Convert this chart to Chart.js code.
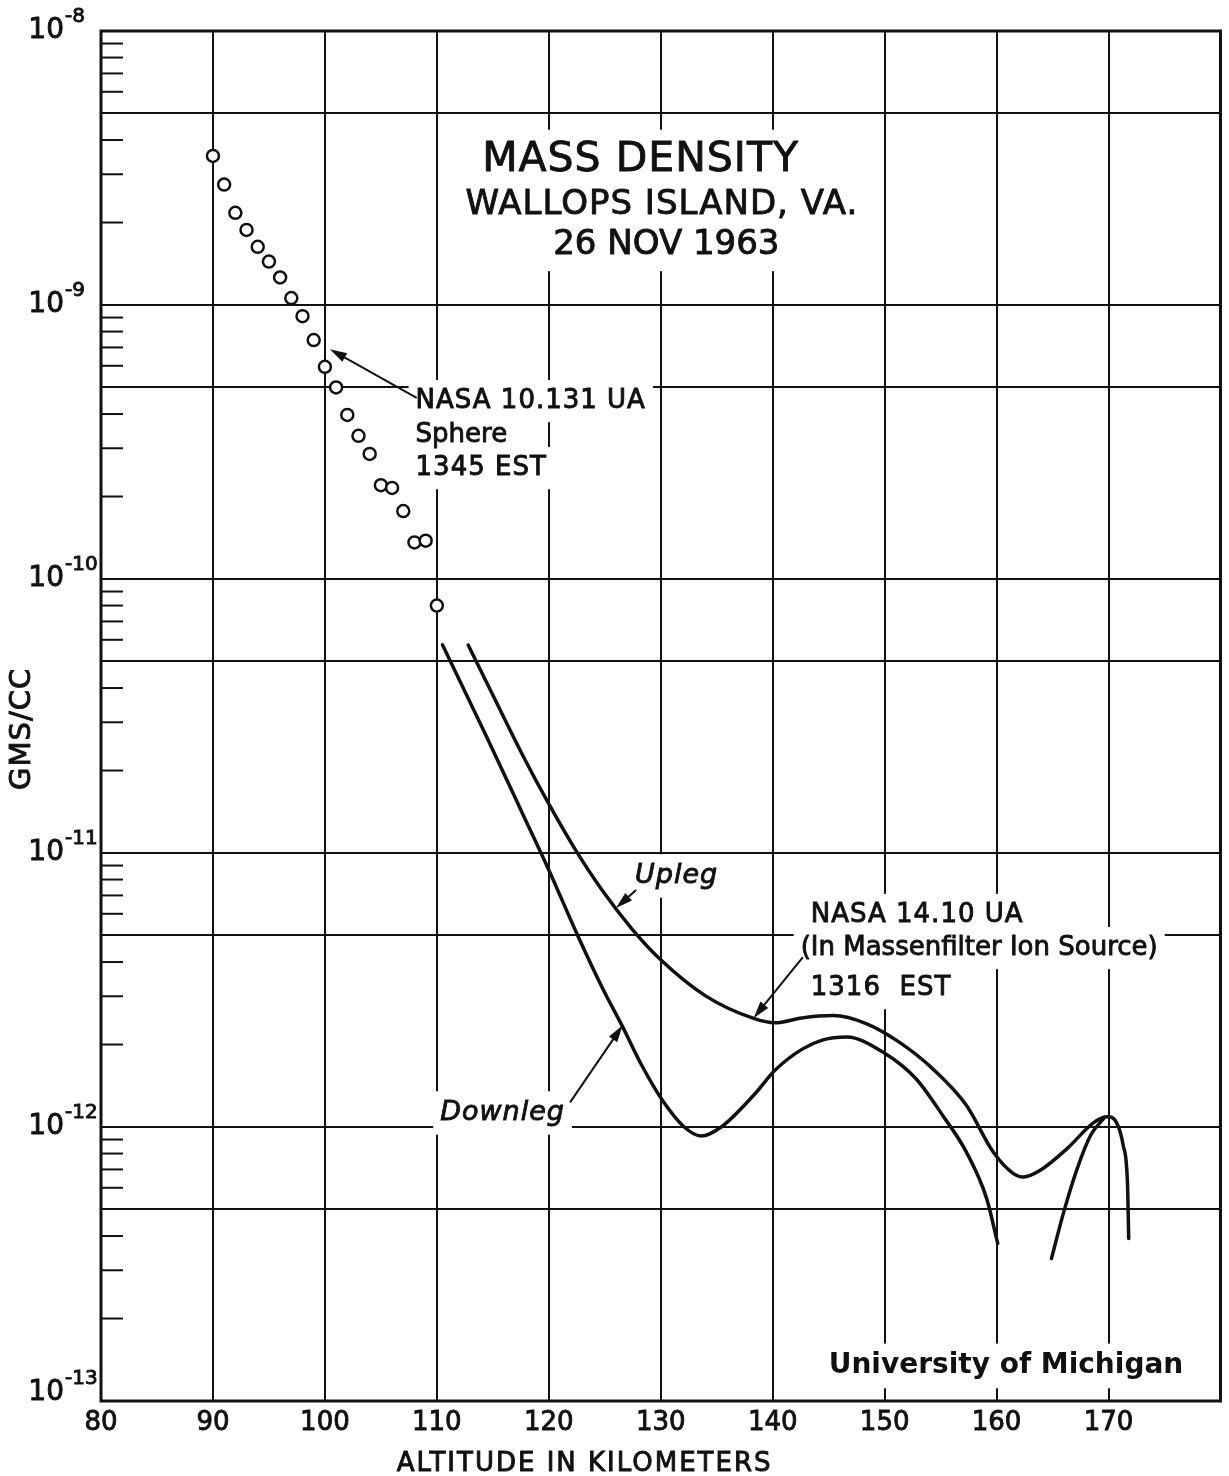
<!DOCTYPE html>
<html>
<head>
<meta charset="utf-8">
<title>Mass Density - Wallops Island, VA. 26 Nov 1963</title>
<script src="https://cdn.jsdelivr.net/npm/chart.js@4.4.1/dist/chart.umd.min.js"></script>
<style>
  html, body { margin: 0; padding: 0; background: #fff; }
  #density-chart { display: block; }
</style>
</head>
<body>
<canvas id="density-chart" width="1229" height="1476"></canvas>
<script>
// NASA 10.131 UA sphere, 1345 EST (open circles), altitude in km, density in g/cc
const sphereAltitude = [90, 91, 92, 93, 94, 95, 96, 97, 98, 99, 100, 101, 102, 103, 104, 105, 106, 107, 108, 109, 110];
const sphereDensity = [3.5e-9, 2.75e-9, 2.17e-9, 1.88e-9, 1.63e-9, 1.44e-9, 1.26e-9, 1.06e-9, 9.1e-10, 7.45e-10,
  5.95e-10, 5.0e-10, 3.97e-10, 3.33e-10, 2.86e-10, 2.2e-10, 2.15e-10, 1.77e-10, 1.36e-10, 1.38e-10, 8.0e-11];

// NASA 14.10 UA, massenfilter ion source, 1316 EST
const uplegAltitude = [112.8, 115.0, 117.7, 120.0, 122.3, 124.8, 127.4, 129.9, 134.0, 138.3, 140.2, 142.6, 145.4,
  148.4, 151.3, 154.3, 157.3, 159.7, 161.5, 162.4, 163.9, 166.3, 168.7, 169.9, 170.7, 171.3, 171.7, 171.8];
const uplegDensity = [5.74e-11, 3.77e-11, 2.26e-11, 1.51e-11, 1.04e-11, 7.28e-12, 5.3e-12, 4.11e-12, 3.01e-12,
  2.49e-12, 2.4e-12, 2.5e-12, 2.55e-12, 2.38e-12, 2.04e-12, 1.63e-12, 1.2e-12, 8.1e-13, 6.76e-13, 6.57e-13,
  6.95e-13, 8.34e-13, 1.04e-12, 1.09e-12, 1.04e-12, 8.6e-13, 6.1e-13, 3.92e-13];

// downleg has a gap between 160 and 165 km (null)
const downlegAltitude = [110.5, 114.2, 117.7, 120.0, 122.6, 124.8, 126.6, 128.3, 130.1, 132.1, 133.6, 135.4, 138.4,
  140.2, 142.6, 144.5, 146.6, 149.9, 152.8, 155.2, 157.3, 159.1, 160.1, 162.5, 164.9, 166.0, 167.2, 168.4, 169.6];
const downlegDensity = [5.75e-11, 2.79e-11, 1.38e-11, 8.67e-12, 4.98e-12, 3.21e-12, 2.32e-12, 1.68e-12, 1.26e-12,
  1.0e-12, 9.27e-13, 1.0e-12, 1.32e-12, 1.61e-12, 1.92e-12, 2.08e-12, 2.13e-12, 1.87e-12, 1.5e-12, 1.1e-12,
  8.1e-13, 5.5e-13, 3.76e-13, null, 3.31e-13, 4.9e-13, 7.05e-13, 9.33e-13, 1.08e-12];

const xTickLabels = [80, 90, 100, 110, 120, 130, 140, 150, 160, 170];
const yTickExponents = [-8, -9, -10, -11, -12, -13];
const yMinorMantissas = [2, 3, 4, 6, 7, 8, 9];

const FONT = '"DejaVu Sans", "Liberation Sans", sans-serif';
const INK = '#111';

// text notes placed in data units (altitude, density)
const notes = [
  { text: 'MASS DENSITY', x: 128.2, y: 3.38e-9, size: 41, align: 'center', spacing: 1 },
  { text: 'WALLOPS ISLAND, VA.', x: 130.1, y: 2.32e-9, size: 34, align: 'center', spacing: 1 },
  { text: '26 NOV 1963', x: 130.5, y: 1.655e-9, size: 34, align: 'center', spacing: 0 },
  { text: 'NASA 10.131 UA', x: 108.1, y: 4.46e-10, size: 26, align: 'left', spacing: 1 },
  { text: 'Sphere', x: 108.1, y: 3.35e-10, size: 26, align: 'left', spacing: 0 },
  { text: '1345 EST', x: 108.1, y: 2.54e-10, size: 26, align: 'left', spacing: 1 },
  { text: 'Upleg', x: 127.7, y: 8.24e-12, size: 27, align: 'left', spacing: 1, style: 'italic ' },
  { text: 'Downleg', x: 110.3, y: 1.125e-12, size: 27, align: 'left', spacing: 1, style: 'italic ' },
  { text: 'NASA 14.10 UA', x: 143.4, y: 5.94e-12, size: 26, align: 'left', spacing: 1 },
  { text: '(In Massenfilter Ion Source)', x: 142.5, y: 4.5e-12, size: 26, align: 'left', spacing: 0 },
  { text: '1316  EST', x: 143.4, y: 3.215e-12, size: 26, align: 'left', spacing: 1 },
  { text: 'University of Michigan', x: 145.0, y: 1.343e-13, size: 28, align: 'left', spacing: 0, style: 'bold ' }
];

const arrows = [
  { from: [108.2, 4.58e-10], to: [100.45, 6.9e-10] },
  { from: [127.8, 7.33e-12], to: [126.0, 6.3e-12] },
  { from: [121.9, 1.23e-12], to: [126.6, 2.35e-12] },
  { from: [142.7, 4.17e-12], to: [138.3, 2.5e-12] }
];

function toPoints(xs, ys) {
  return xs.map((x, i) => ({ x: x, y: ys[i] }));
}

function mantissa(v) {
  const e = Math.floor(Math.log10(v) + 1e-9);
  return Math.round(v / Math.pow(10, e));
}

const yGridValues = [];
for (let e = -13; e <= -9; e++) {
  for (let m = 1; m <= 9; m++) yGridValues.push(m * Math.pow(10, e));
}
yGridValues.push(1e-8);

function noteFont(n) {
  return (n.style || '') + n.size + 'px ' + FONT;
}

function noteBox(ctx, n, xs, ys) {
  ctx.font = noteFont(n);
  ctx.letterSpacing = n.spacing + 'px';
  const w = ctx.measureText(n.text).width;
  const px = xs.getPixelForValue(n.x);
  const py = ys.getPixelForValue(n.y);
  const left = n.align === 'center' ? px - w / 2 : px;
  return { left: left, top: py - n.size * 0.62, w: w, h: n.size * 1.24, px: px, py: py };
}

// heavier lettering, like the inked original
function inkText(ctx, text, x, y, bold) {
  ctx.fillText(text, x, y);
  if (bold) return;
  ctx.lineWidth = 0.9;
  ctx.strokeText(text, x, y);
}

const paperPlugin = {
  id: 'paper',
  beforeDatasetsDraw(chart) {
    const ctx = chart.ctx;
    const xs = chart.scales.x;
    const ys = chart.scales.y;
    const a = chart.chartArea;
    ctx.save();

    // white patches where the lettering interrupts the grid
    ctx.fillStyle = '#fff';
    notes.forEach(n => {
      const b = noteBox(ctx, n, xs, ys);
      ctx.fillRect(b.left - 7, b.top - 5, b.w + 14, b.h + 10);
    });
    ctx.letterSpacing = '0px';

    // short minor ticks on the left axis
    ctx.strokeStyle = INK;
    ctx.lineWidth = 2;
    for (let e = -13; e <= -9; e++) {
      yMinorMantissas.forEach(m => {
        const py = ys.getPixelForValue(m * Math.pow(10, e));
        ctx.beginPath();
        ctx.moveTo(a.left, py);
        ctx.lineTo(a.left + 22, py);
        ctx.stroke();
      });
    }

    // frame
    ctx.lineWidth = 3;
    ctx.strokeRect(a.left, a.top, a.right - a.left, a.bottom - a.top);
    ctx.restore();
  },
  afterDatasetsDraw(chart) {
    const ctx = chart.ctx;
    const xs = chart.scales.x;
    const ys = chart.scales.y;
    const a = chart.chartArea;
    ctx.save();
    ctx.fillStyle = INK;
    ctx.strokeStyle = INK;

    // notes
    ctx.textBaseline = 'middle';
    notes.forEach(n => {
      const b = noteBox(ctx, n, xs, ys);
      ctx.textAlign = 'left';
      inkText(ctx, n.text, b.left, b.py, n.style === 'bold ');
    });
    ctx.letterSpacing = '0px';

    // arrows
    arrows.forEach(ar => {
      const x1 = xs.getPixelForValue(ar.from[0]);
      const y1 = ys.getPixelForValue(ar.from[1]);
      const x2 = xs.getPixelForValue(ar.to[0]);
      const y2 = ys.getPixelForValue(ar.to[1]);
      const ang = Math.atan2(y2 - y1, x2 - x1);
      ctx.lineWidth = 2;
      ctx.beginPath();
      ctx.moveTo(x1, y1);
      ctx.lineTo(x2 - 10 * Math.cos(ang), y2 - 10 * Math.sin(ang));
      ctx.stroke();
      ctx.beginPath();
      ctx.moveTo(x2, y2);
      ctx.lineTo(x2 - 17 * Math.cos(ang) + 5 * Math.sin(ang), y2 - 17 * Math.sin(ang) - 5 * Math.cos(ang));
      ctx.lineTo(x2 - 17 * Math.cos(ang) - 5 * Math.sin(ang), y2 - 17 * Math.sin(ang) + 5 * Math.cos(ang));
      ctx.closePath();
      ctx.fill();
    });

    // x tick labels
    ctx.font = '26px ' + FONT;
    ctx.textAlign = 'center';
    ctx.textBaseline = 'middle';
    xTickLabels.forEach(v => {
      inkText(ctx, String(v), xs.getPixelForValue(v), a.bottom + 22);
    });

    // y tick labels: 10 with a raised exponent
    yTickExponents.forEach(e => {
      const py = ys.getPixelForValue(Math.pow(10, e));
      const off = e === -13 ? -8 : 0;
      ctx.font = '28px ' + FONT;
      ctx.textAlign = 'right';
      inkText(ctx, '10', a.left - 37, py + off);
      ctx.font = '20px ' + FONT;
      ctx.textAlign = 'left';
      inkText(ctx, String(e), a.left - 36, py - 14 + off);
    });

    // axis titles
    ctx.font = '26px ' + FONT;
    ctx.letterSpacing = '2px';
    ctx.textAlign = 'center';
    inkText(ctx, 'ALTITUDE IN KILOMETERS', xs.getPixelForValue(123.2), a.bottom + 63);
    ctx.letterSpacing = '1px';
    ctx.translate(a.left - 79, ys.getPixelForValue(2.84e-11));
    ctx.rotate(-Math.PI / 2);
    ctx.font = '29px ' + FONT;
    inkText(ctx, 'GMS/CC', 0, 0);
    ctx.restore();
  }
};

function loadChart() {
  const ctx = document.getElementById('density-chart').getContext('2d');
  new Chart(ctx, {
    type: 'scatter',
    data: {
      datasets: [
        {
          label: 'NASA 10.131 UA Sphere',
          data: toPoints(sphereAltitude, sphereDensity),
          showLine: false,
          pointRadius: 6,
          pointBorderWidth: 2.5,
          pointBackgroundColor: '#fff',
          pointBorderColor: INK,
        },
        {
          label: 'Upleg',
          data: toPoints(uplegAltitude, uplegDensity),
          showLine: true,
          borderColor: INK,
          borderWidth: 3.5,
          pointRadius: 0,
          cubicInterpolationMode: 'monotone',
          borderCapStyle: 'round',
          borderJoinStyle: 'round',
        },
        {
          label: 'Downleg',
          data: toPoints(downlegAltitude, downlegDensity),
          showLine: true,
          spanGaps: false,
          borderColor: INK,
          borderWidth: 3.5,
          pointRadius: 0,
          cubicInterpolationMode: 'monotone',
          borderCapStyle: 'round',
          borderJoinStyle: 'round',
        },
      ],
    },
    options: {
      responsive: false,
      animation: false,
      devicePixelRatio: 1,
      events: [],
      layout: {
        padding: { left: 101, top: 31, right: 4, bottom: 75 },
      },
      scales: {
        x: {
          type: 'linear',
          min: 80,
          max: 180,
          ticks: { stepSize: 10, display: false },
          border: { display: false },
          grid: {
            drawTicks: false,
            color: INK,
            lineWidth: (c) => (c.tick && c.tick.value > 80 && c.tick.value < 180 ? 2 : 0),
          },
        },
        y: {
          type: 'logarithmic',
          min: 1e-13,
          max: 1e-8,
          afterBuildTicks: (scale) => {
            scale.ticks = yGridValues.map((v) => ({ value: v }));
          },
          ticks: { display: false },
          border: { display: false },
          grid: {
            drawTicks: false,
            color: INK,
            lineWidth: (c) => {
              if (!c.tick) return 0;
              const v = c.tick.value;
              if (v < 1.01e-13 || v > 0.99e-8) return 0;
              const m = mantissa(v);
              return m === 1 || m === 5 ? 2 : 0;
            },
          },
        },
      },
      plugins: {
        legend: { display: false },
        tooltip: { enabled: false },
      },
    },
    plugins: [paperPlugin],
  });
}

window.onload = loadChart;
</script>
</body>
</html>
